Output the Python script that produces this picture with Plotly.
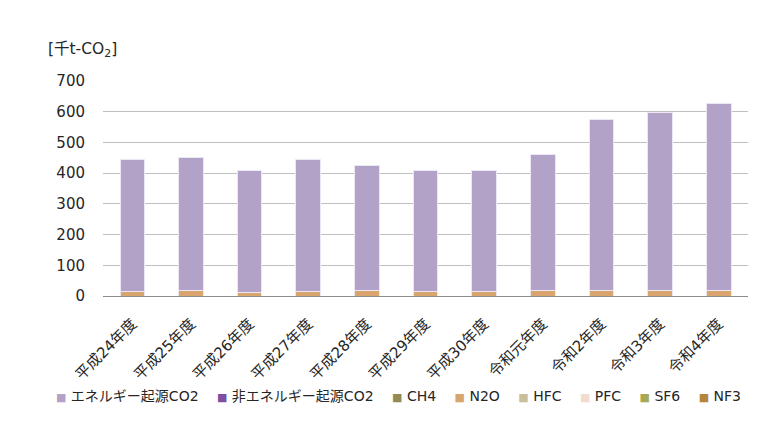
import plotly.graph_objects as go

years = ["平成24年度", "平成25年度", "平成26年度", "平成27年度", "平成28年度", "平成29年度",
         "平成30年度", "令和元年度", "令和2年度", "令和3年度", "令和4年度"]

energy_co2 = [429, 432, 396, 427, 407, 394, 396, 445, 557, 577, 608]
non_energy_co2 = [0, 0, 0, 0, 0, 0, 0, 0, 0, 0, 0]
ch4 = [0, 0, 0, 0, 0, 0, 0, 0, 0, 0, 0]
n2o = [14, 19, 13, 16, 18, 15, 14, 17, 18, 19, 19]
hfc = [0, 0, 0, 0, 0, 0, 0, 0, 0, 0, 0]
pfc = [0, 0, 0, 0, 0, 0, 0, 0, 0, 0, 0]
sf6 = [0, 0, 0, 0, 0, 0, 0, 0, 0, 0, 0]
nf3 = [0, 0, 0, 0, 0, 0, 0, 0, 0, 0, 0]

series = [
    ("エネルギー起源CO2", energy_co2, "#B3A2C7"),
    ("非エネルギー起源CO2", non_energy_co2, "#7E4FA0"),
    ("CH4", ch4, "#948A54"),
    ("N2O", n2o, "#D7A56D"),
    ("HFC", hfc, "#C9C09B"),
    ("PFC", pfc, "#F2DCCF"),
    ("SF6", sf6, "#A6AA55"),
    ("NF3", nf3, "#B5863A"),
]

FONT = "DejaVu Sans, Noto Sans CJK JP"

fig = go.Figure()
# N2O sits under the energy CO2 block in the picture
for i in [3, 0, 1, 2, 4, 5, 6, 7]:
    name, vals, color = series[i]
    fig.add_trace(go.Bar(x=years, y=vals, name=name, marker_color=color,
                         marker_line=dict(color="#EDE6F5", width=1),
                         showlegend=False))

# legend row drawn as one text line (squares + names), built from the series list
legend_text = "\u2003 ".join(
    f'<span style="color:{c};font-size:11px">■</span> {n}' for n, _, c in series)

fig.update_layout(
    barmode="stack",
    bargap=0.58,
    width=769, height=423,
    margin=dict(l=103, r=21, t=81, b=127),
    plot_bgcolor="white", paper_bgcolor="white",
    font=dict(family=FONT, size=15, color="#262626"),
    annotations=[
        dict(text="[千t-CO<sub>2</sub>]", xref="paper", yref="paper",
             x=-0.089, y=1.144, xanchor="left", yanchor="middle",
             showarrow=False, font=dict(size=15.5)),
        dict(text=legend_text, xref="paper", yref="paper",
             x=-0.076, y=-0.465, xanchor="left", yanchor="middle",
             showarrow=False, font=dict(size=14)),
    ],
)
fig.update_yaxes(range=[0, 700], dtick=100, showgrid=True, gridcolor="#BFBFBF",
                 gridwidth=1, zeroline=False, showline=False, ticks="",
                 ticklabelstandoff=17, automargin=False)
fig.update_xaxes(tickangle=-45, showline=True, linecolor="#8C8C8C", linewidth=1,
                 ticks="", ticklabelstandoff=12, automargin=False)

fig.write_html("out.html", config={"displayModeBar": False},
               post_script="document.body.style.margin='0';")
